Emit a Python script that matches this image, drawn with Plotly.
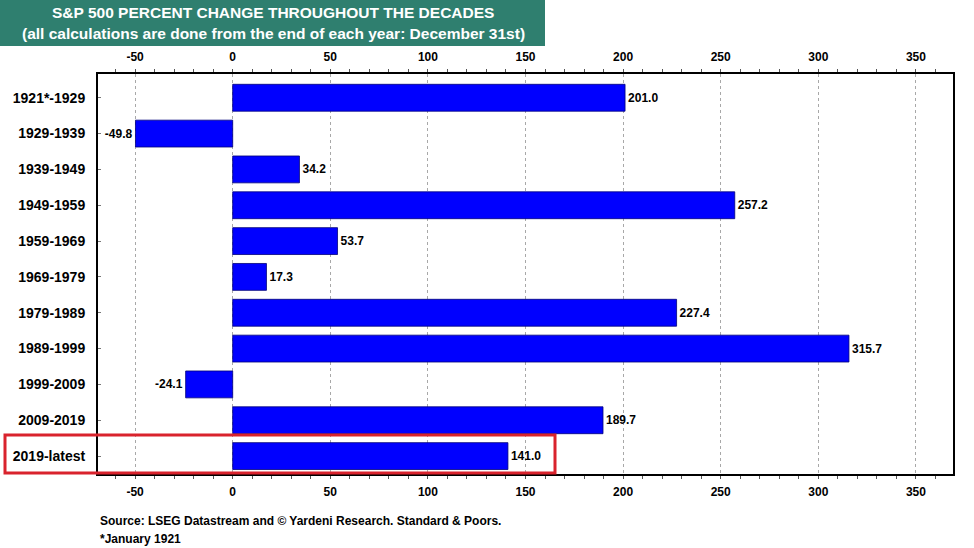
import plotly.graph_objects as go

# Data
periods = ["1921*-1929", "1929-1939", "1939-1949", "1949-1959", "1959-1969",
           "1969-1979", "1979-1989", "1989-1999", "1999-2009", "2009-2019",
           "2019-latest"]
pct_change = [201.0, -49.8, 34.2, 257.2, 53.7, 17.3, 227.4, 315.7, -24.1, 189.7, 141.0]
tick_vals = [-50, 0, 50, 100, 150, 200, 250, 300, 350]
tick_text = ["-50", "0", "50", "100", "150", "200", "250", "300", "350"]

W, H = 974, 548
ML, MR, MT, MB = 98, 21, 74, 74
PW, PH = W - ML - MR, H - MT - MB


def px(x):
    return (x - ML) / PW


def py(y):
    return 1 - (y - MT) / PH


FONT = "Liberation Sans, Arial, sans-serif"

fig = go.Figure()
fig.add_trace(go.Bar(
    x=pct_change, y=periods, orientation="h",
    marker=dict(color="#0000ff", line=dict(color="#00007a", width=0.8)),
    text=[f"{v:.1f}" for v in pct_change], textposition="outside",
    textfont=dict(family=FONT, size=12, color="black", weight="bold"),
    cliponaxis=False, hoverinfo="x+y",
))
# invisible trace to drive the top axis
fig.add_trace(go.Scatter(x=[tick_vals[0]], y=[periods[0]], xaxis="x2",
                         mode="markers", marker=dict(opacity=0),
                         showlegend=False, hoverinfo="skip"))

axis_common = dict(
    range=[-69, 369], tickvals=tick_vals, ticktext=tick_text,
    tickfont=dict(family=FONT, size=12, color="black", weight="bold"),
    showgrid=True, gridcolor="#a8a8a8", griddash="dot", gridwidth=1,
    zeroline=False, showline=True, linecolor="black", linewidth=2,
    ticks="outside", ticklen=0, ticklabelstandoff=6,
    minor=dict(dtick=10, ticks="outside", ticklen=3, tickcolor="#555",
               showgrid=False),
)
fig.update_layout(
    width=W, height=H,
    margin=dict(l=ML, r=MR, t=MT, b=MB),
    paper_bgcolor="white", plot_bgcolor="white",
    showlegend=False, bargap=0.25,
    font=dict(family=FONT, color="black"),
    xaxis=dict(**axis_common, side="bottom", mirror=False),
    xaxis2=dict(**axis_common, side="top", overlaying="x", matches="x"),
    yaxis=dict(categoryorder="array", categoryarray=periods, autorange="reversed",
               tickfont=dict(family=FONT, size=14, color="black", weight="bold"),
               showline=True, linecolor="black", linewidth=2, mirror=True,
               ticks="inside", ticklen=3, tickcolor="#777", showgrid=False,
               ticklabelstandoff=8),
)

# title banner
fig.add_shape(type="rect", xref="paper", yref="paper",
              x0=px(0), x1=px(545), y0=py(46), y1=py(0),
              fillcolor="#2f7f6f", line=dict(width=0), layer="above")
fig.add_annotation(xref="paper", yref="paper", x=px(273), y=py(13),
                   xanchor="center", yanchor="middle",
                   text="<b>S&P 500 PERCENT CHANGE THROUGHOUT THE DECADES</b>",
                   showarrow=False, font=dict(family=FONT, size=15.5, color="white"))
fig.add_annotation(xref="paper", yref="paper", x=px(273), y=py(34),
                   xanchor="center", yanchor="middle",
                   text="<b>(all calculations are done from the end of each year: December 31st)</b>",
                   showarrow=False, font=dict(family=FONT, size=15.5, color="white"))

# highlight box around the latest period
fig.add_shape(type="rect", xref="paper", yref="paper",
              x0=px(5), x1=px(555), y0=py(473), y1=py(435),
              line=dict(color="#d9232d", width=3), fillcolor="rgba(0,0,0,0)",
              layer="above")

# footnotes
fig.add_annotation(xref="paper", yref="paper", x=px(98), y=py(521),
                   xanchor="left", yanchor="middle", showarrow=False,
                   text="<b>Source: LSEG Datastream and © Yardeni Research. Standard & Poors.</b>",
                   font=dict(family=FONT, size=12, color="black"))
fig.add_annotation(xref="paper", yref="paper", x=px(98), y=py(539),
                   xanchor="left", yanchor="middle", showarrow=False,
                   text="<b>*January 1921</b>",
                   font=dict(family=FONT, size=12, color="black"))

fig.write_html("out.html", config={"displayModeBar": False},
               post_script="document.body.style.margin='0';")
